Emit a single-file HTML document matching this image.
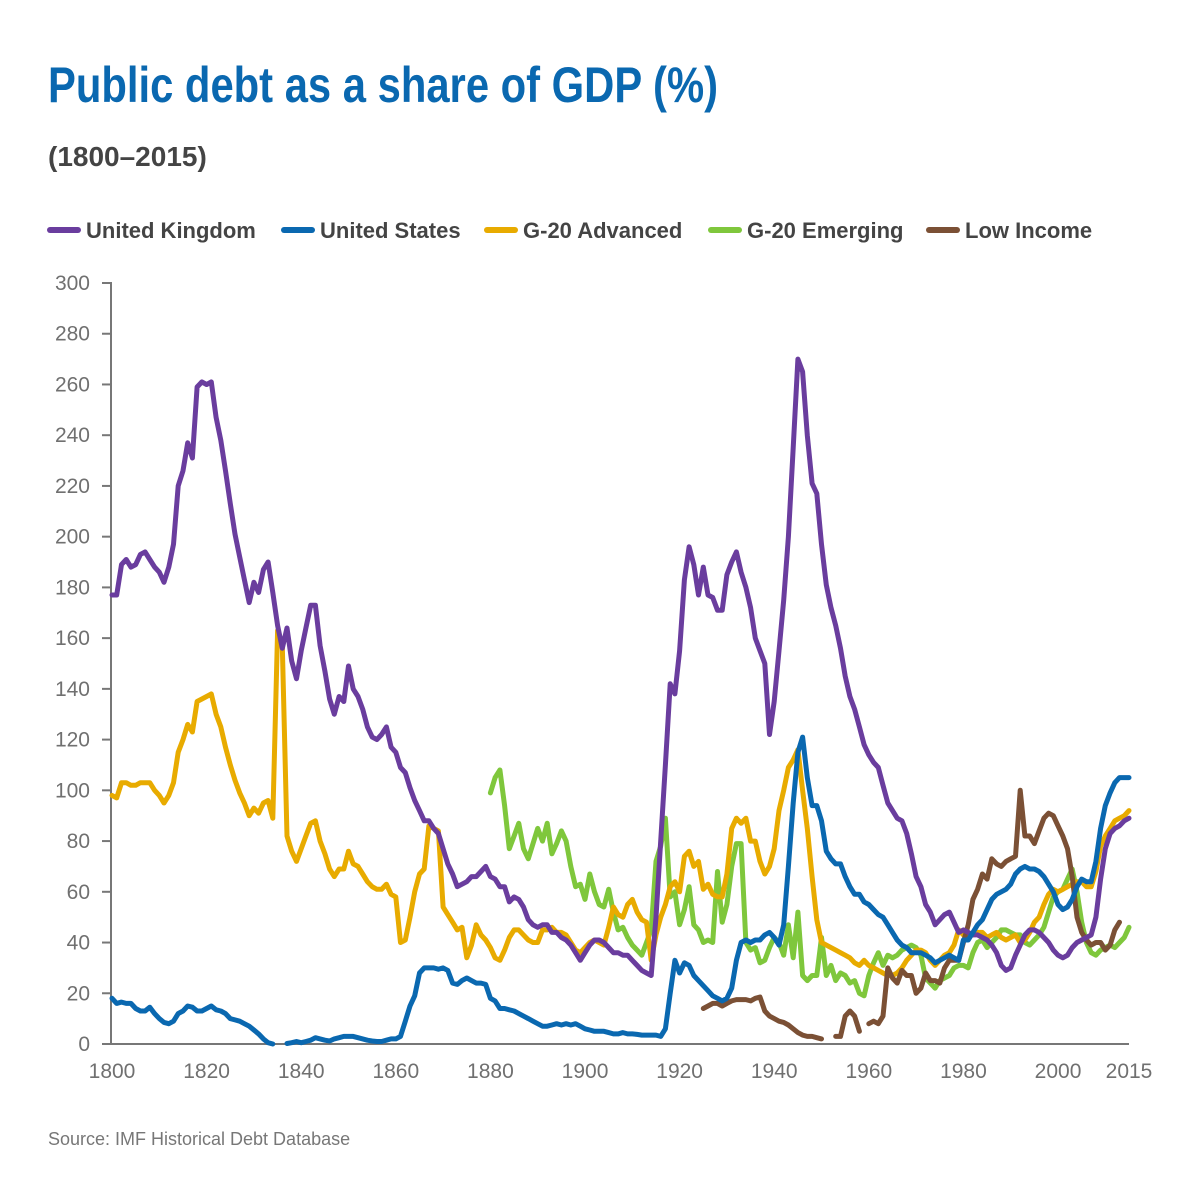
<!DOCTYPE html>
<html><head><meta charset="utf-8"><style>
body{margin:0;background:#fff}
svg{display:block;font-family:"Liberation Sans",sans-serif}
</style></head><body>
<svg id="chart" width="1200" height="1200" viewBox="0 0 1200 1200">
<text x="48" y="102" font-size="50" font-weight="bold" fill="#0a68b0" textLength="670" lengthAdjust="spacingAndGlyphs">Public debt as a share of GDP (%)</text>
<text x="48" y="166" font-size="28" font-weight="bold" fill="#444">(1800–2015)</text>
<g id="legend"></g>
<g id="axes"></g>
<g id="series"></g>
<text x="48" y="1145" font-size="18" fill="#777">Source: IMF Historical Debt Database</text>
</svg>
<script>
const ukStart=1800;
const ukValues=[177,177,189,191,188,189,193,194,191,188,186,182,188,197,220,226,237,231,259,261,260,261,247,238,226,213,201,192,183,174,182,178,187,190,178,165,156,164,151,144,155,164,173,173,157,147,136,130,137,135,149,140,137,132,125,121,120,122,125,117,115,109,107,101,96,92,88,88,85,83,77,71,67,62,63,64,66,66,68,70,66,65,62,62,56,58,57,54,49,47,46,47,47,44,44,42,41,39,36,33,36,39,41,41,40,38,36,36,35,35,33,31,29,28,27,50,80,110,142,138,155,183,196,189,177,188,177,176,171,171,185,190,194,186,180,172,160,155,150,122,135,155,175,200,235,270,265,240,221,217,197,181,172,165,156,145,137,132,125,118,114,111,109,102,95,92,89,88,83,75,66,62,55,52,47,49,51,52,48,44,45,44,43,43,42,41,39,36,31,29,30,35,39,43,45,45,44,42,40,37,35,34,35,38,40,41,42,43,50,65,77,83,85,86,88,89];
const usStart=1800;
const usValues=[18,16,16.5,16,16,14,13,13,14.5,12,10,8.5,8,9,12,13,15,14.5,13,13,14,15,13.5,13,12,10,9.5,9,8,7,5.5,4,2,0.5,0,null,null,0.2,0.5,1,0.5,1,1.5,2.5,2,1.5,1.2,2,2.5,3,3,3,2.5,2,1.5,1.2,1,1,1.5,2,2,3,9,15,19,28,30,30,30,29.5,30,29,24,23.5,25,26,25,24,24,23.5,18,17,14,14,13.5,13,12,11,10,9,8,7,7,7.5,8,7.5,8,7.5,8,7,6,5.5,5,5,5,4.5,4,4,4.5,4,4,3.8,3.5,3.5,3.5,3.5,3,6,20,33,28,32,31,27,25,23,21,19,18,17,18,22,33,40,41,40,41,41,43,44,42,39,47,70,95,115,121,105,94,94,88,76,73,71,71,66,62,59,59,56,55,53,51,50,47,44,41,39,38,36,36,36,35,34,32,33,34,35,34,33,41,41,44,47,49,53,57,59,60,61,63,67,69,70,69,69,68,66,63,60,55,53,54,57,62,65,64,64,72,85,94,99,103,105,105,105];
const advStart=1800;
const advValues=[98,97,103,103,102,102,103,103,103,100,98,95,98,103,115,120,126,123,135,136,137,138,130,125,117,110,104,99,95,90,93,91,95,96,89,163,157,82,76,72,77,82,87,88,80,75,69,66,69,69,76,71,70,67,64,62,61,61,63,59,58,40,41,50,60,67,69,86,85,84,54,51,48,45,46,34,39,47,43,41,38,34,33,37,42,45,45,43,41,40,40,45,45,46,44,44,43,40,37,36,38,40,41,40,39,46,54,51,50,55,57,52,49,48,33,43,50,55,62,64,60,74,76,70,72,61,63,59,58,58,67,85,89,87,89,80,80,72,67,70,77,92,100,109,112,116,100,85,66,49,40,39,38,37,36,35,34,32,31,33,31,30,29,28,27,27,28,30,33,35,37,37,36,33,31,33,35,36,39,45,43,43,43,44,44,42,43,44,42,41,42,43,40,41,44,48,50,55,59,61,60,61,62,63,64,64,62,62,68,78,82,85,88,89,90,92];
const emgStart=1880;
const emgValues=[99,105,108,94,77,82,87,77,73,79,85,80,87,75,79,84,80,70,62,63,57,67,60,55,54,61,52,45,46,42,39,37,35,40,45,72,78,89,58,60,47,53,62,47,45,40,41,40,68,48,55,70,79,79,40,37,38,32,33,38,42,40,35,47,34,52,27,25,27,27,42,27,31,25,28,27,24,25,20,19,27,32,36,31,35,34,35,37,38,39,38,35,26,24,22,25,26,27,30,31,31,30,36,40,41,38,40,42,45,45,44,43,43,40,39,41,43,46,52,58,60,61,65,69,60,48,40,36,35,37,38,39,38,40,42,46];
const lowStart=1925;
const lowValues=[14,15,16,16,15,16,17,17.5,17.5,17.5,17,18,18.5,13,11,10,9,8.5,7.5,6,4.5,3.5,3,3,2.5,2,null,null,3,3,11,13,11,5,null,8,9,8,11,30,26,24,29,27,27,20,22,28,25,25,24,30,33,33,33,40,47,57,61,67,65,73,71,70,72,73,74,100,82,82,79,84,89,91,90,86,82,77,66,50,44,41,39,40,40,37,39,45,48];
const yTicks=[0,20,40,60,80,100,120,140,160,180,200,220,240,260,280,300];
const xTicks=[1800,1820,1840,1860,1880,1900,1920,1940,1960,1980,2000,2015];
const seriesNames=["United Kingdom","United States","G-20 Advanced","G-20 Emerging","Low Income"];
const seriesColors=["#6a3d9e","#0a68b0","#e8ab00","#7fc73c","#7b5035"];

const NS="http://www.w3.org/2000/svg";
const X0=112,X1=1129,Y0=1044,Y1=283;
function xs(yr){return X0+(yr-1800)*(X1-X0)/215;}
function ys(v){return Y0-v*(Y0-Y1)/300;}
function mk(tag,attrs,parent){const e=document.createElementNS(NS,tag);for(const k in attrs)e.setAttribute(k,attrs[k]);parent.appendChild(e);return e;}

const axes=document.getElementById('axes');
const al=mk('line',{x1:X0-1,y1:Y1,x2:X0-1,y2:Y0,stroke:'#777','stroke-width':2},axes);


const bl=mk('line',{x1:X0-1,y1:Y0,x2:X1,y2:Y0,stroke:'#777','stroke-width':2},axes);


yTicks.forEach(v=>{
  const t=mk('line',{x1:X0-10,y1:ys(v),x2:X0,y2:ys(v),stroke:'#777','stroke-width':2},axes);
  
  
  const l=mk('text',{x:90,y:ys(v)+7,'text-anchor':'end','font-size':21,fill:'#707070'},axes);
  l.textContent=v;
  
  
});
xTicks.forEach(v=>{
  const l=mk('text',{x:xs(v),y:1078,'text-anchor':'middle','font-size':21,fill:'#707070'},axes);
  l.textContent=v;
  
  
});

const sg=document.getElementById('series');
function drawSeries(start,vals,color,name){
  let d='',pen=false;
  vals.forEach((v,i)=>{
    if(v===null){pen=false;return;}
    d+=(pen?'L':'M')+xs(start+i).toFixed(1)+','+ys(v).toFixed(1);pen=true;
  });
  const p=mk('path',{d:d,fill:'none',stroke:color,'stroke-width':5,'stroke-linejoin':'round','stroke-linecap':'round'},sg);
  
  
}
drawSeries(emgStart,emgValues,seriesColors[3],'g20-emerging-line');
drawSeries(advStart,advValues,seriesColors[2],'g20-advanced-line');
drawSeries(lowStart,lowValues,seriesColors[4],'low-income-line');
drawSeries(ukStart,ukValues,seriesColors[0],'united-kingdom-line');
drawSeries(usStart,usValues,seriesColors[1],'united-states-line');

const lg=document.getElementById('legend');
const lx=[48,282,485,709,927];
seriesNames.forEach((n,i)=>{
  const s=mk('line',{x1:lx[i]+2,y1:230,x2:lx[i]+30,y2:230,stroke:seriesColors[i],'stroke-width':6,'stroke-linecap':'round'},lg);
  
  
  const t=mk('text',{x:lx[i]+38,y:238,'font-size':22,'font-weight':'bold',fill:'#444'},lg);
  t.textContent=n;
  
  
});
</script>
</body></html>
